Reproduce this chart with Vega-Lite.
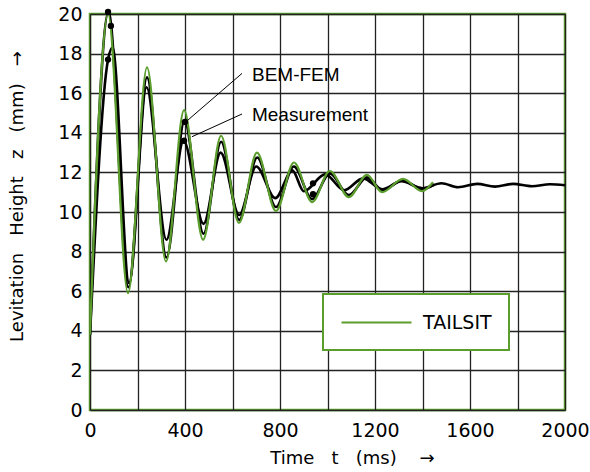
{
  "$schema": "https://vega.github.io/schema/vega-lite/v6.json",
  "width": 475,
  "height": 396,
  "autosize": "none",
  "padding": {"left": 90, "top": 14, "right": 25, "bottom": 62},
  "background": "white",
  "config": {
    "view": {"stroke": "#5b9e2d", "strokeWidth": 2.5},
    "axis": {
      "labelFont": "DejaVu Sans", "titleFont": "DejaVu Sans",
      "labelFontSize": 19, "titleFontSize": 18,
      "labelColor": "#000", "titleColor": "#000", "titleFontWeight": "normal",
      "gridColor": "#222", "gridOpacity": 1, "gridWidth": 1.3,
      "ticks": false, "domain": false
    }
  },
  "datasets": {
    "curves": [
      {"series": "Measurement", "t": 0, "z": 3.8},
      {"series": "Measurement", "t": 76, "z": 17.7},
      {"series": "Measurement", "t": 95, "z": 18.3},
      {"series": "Measurement", "t": 165, "z": 6.4},
      {"series": "Measurement", "t": 238, "z": 16.3},
      {"series": "Measurement", "t": 322, "z": 8.6},
      {"series": "Measurement", "t": 394, "z": 13.6},
      {"series": "Measurement", "t": 478, "z": 9.4},
      {"series": "Measurement", "t": 550, "z": 13.0},
      {"series": "Measurement", "t": 628, "z": 9.85},
      {"series": "Measurement", "t": 700, "z": 12.3},
      {"series": "Measurement", "t": 780, "z": 10.7},
      {"series": "Measurement", "t": 852, "z": 12.1},
      {"series": "Measurement", "t": 900, "z": 11.05},
      {"series": "Measurement", "t": 990, "z": 11.9},
      {"series": "Measurement", "t": 1070, "z": 11.1},
      {"series": "Measurement", "t": 1150, "z": 11.7},
      {"series": "Measurement", "t": 1230, "z": 11.15},
      {"series": "Measurement", "t": 1310, "z": 11.55},
      {"series": "Measurement", "t": 1400, "z": 11.2},
      {"series": "Measurement", "t": 1480, "z": 11.45},
      {"series": "Measurement", "t": 1550, "z": 11.25},
      {"series": "Measurement", "t": 1630, "z": 11.42},
      {"series": "Measurement", "t": 1705, "z": 11.28},
      {"series": "Measurement", "t": 1781, "z": 11.42},
      {"series": "Measurement", "t": 1861, "z": 11.3},
      {"series": "Measurement", "t": 1937, "z": 11.4},
      {"series": "Measurement", "t": 2000, "z": 11.35},
      {"series": "BEM-FEM", "t": 0, "z": 3.8},
      {"series": "BEM-FEM", "t": 78, "z": 20.1},
      {"series": "BEM-FEM", "t": 162, "z": 6.2},
      {"series": "BEM-FEM", "t": 240, "z": 16.8},
      {"series": "BEM-FEM", "t": 322, "z": 7.7},
      {"series": "BEM-FEM", "t": 398, "z": 14.6},
      {"series": "BEM-FEM", "t": 478, "z": 8.9},
      {"series": "BEM-FEM", "t": 552, "z": 13.55},
      {"series": "BEM-FEM", "t": 628, "z": 9.6},
      {"series": "BEM-FEM", "t": 704, "z": 12.75},
      {"series": "BEM-FEM", "t": 783, "z": 10.25},
      {"series": "BEM-FEM", "t": 858, "z": 12.3},
      {"series": "BEM-FEM", "t": 935, "z": 10.65},
      {"series": "BEM-FEM", "t": 1010, "z": 11.95},
      {"series": "BEM-FEM", "t": 1090, "z": 10.85},
      {"series": "BEM-FEM", "t": 1166, "z": 11.75},
      {"series": "BEM-FEM", "t": 1232, "z": 11.1},
      {"series": "BEM-FEM", "t": 1318, "z": 11.6},
      {"series": "BEM-FEM", "t": 1398, "z": 11.15},
      {"series": "BEM-FEM", "t": 1450, "z": 11.4},
      {"series": "TAILSIT", "t": 0, "z": 3.8},
      {"series": "TAILSIT", "t": 76, "z": 20.0},
      {"series": "TAILSIT", "t": 160, "z": 5.9},
      {"series": "TAILSIT", "t": 240, "z": 17.3},
      {"series": "TAILSIT", "t": 320, "z": 7.5},
      {"series": "TAILSIT", "t": 396, "z": 15.15},
      {"series": "TAILSIT", "t": 476, "z": 8.6},
      {"series": "TAILSIT", "t": 552, "z": 13.85},
      {"series": "TAILSIT", "t": 627, "z": 9.45},
      {"series": "TAILSIT", "t": 703, "z": 13.0},
      {"series": "TAILSIT", "t": 783, "z": 10.05},
      {"series": "TAILSIT", "t": 859, "z": 12.5},
      {"series": "TAILSIT", "t": 935, "z": 10.5},
      {"series": "TAILSIT", "t": 1010, "z": 12.07},
      {"series": "TAILSIT", "t": 1090, "z": 10.75},
      {"series": "TAILSIT", "t": 1166, "z": 11.87},
      {"series": "TAILSIT", "t": 1230, "z": 11.0},
      {"series": "TAILSIT", "t": 1318, "z": 11.67},
      {"series": "TAILSIT", "t": 1398, "z": 11.05},
      {"series": "TAILSIT", "t": 1444, "z": 11.5}
    ],
    "markers": [
      {"t": 76, "z": 20.1},
      {"t": 76, "z": 17.7},
      {"t": 88, "z": 19.4},
      {"t": 400, "z": 14.55},
      {"t": 396, "z": 13.6},
      {"t": 939, "z": 11.45},
      {"t": 939, "z": 10.9}
    ],
    "labels": [
      {"label": "BEM-FEM", "t": 682, "z": 16.9, "t0": 640, "z0": 17.0, "t1": 413, "z1": 14.65},
      {"label": "Measurement", "t": 682, "z": 14.9, "t0": 640, "z0": 14.95, "t1": 429, "z1": 13.8}
    ]
  },
  "encoding": {
    "x": {
      "field": "t", "type": "quantitative",
      "scale": {"domain": [0, 2000], "nice": false},
      "axis": {
        "values": [0, 200, 400, 600, 800, 1000, 1200, 1400, 1600, 1800, 2000],
        "format": "d",
        "labelExpr": "datum.value % 400 === 0 ? datum.label : ''",
        "labelPadding": 11, "labelFlush": false,
        "title": "Time\u00a0\u00a0\u00a0t\u00a0\u00a0\u00a0(ms)\u00a0\u00a0\u00a0\u00a0→",
        "titleX": 262, "titleY": 53, "titleAlign": "center", "titleBaseline": "alphabetic", "titleAnchor": null
      }
    },
    "y": {
      "field": "z", "type": "quantitative",
      "scale": {"domain": [0, 20], "nice": false},
      "axis": {
        "values": [0, 2, 4, 6, 8, 10, 12, 14, 16, 18, 20],
        "labelPadding": 8, "labelFlush": false,
        "title": "Levitation\u00a0\u00a0\u00a0Height\u00a0\u00a0\u00a0z\u00a0\u00a0\u00a0(mm)\u00a0\u00a0\u00a0→",
        "titleX": -68, "titleY": 182, "titleAngle": -90, "titleAlign": "center", "titleBaseline": "alphabetic", "titleAnchor": null
      }
    }
  },
  "layer": [
    {
      "data": {"name": "curves"},
      "transform": [{"filter": "datum.series !== 'TAILSIT'"}],
      "mark": {"type": "line", "interpolate": "monotone", "color": "#000", "strokeWidth": 2.6, "clip": true},
      "encoding": {"detail": {"field": "series", "type": "nominal"}}
    },
    {
      "data": {"name": "curves"},
      "transform": [{"filter": "datum.series === 'TAILSIT'"}],
      "mark": {"type": "line", "interpolate": "monotone", "strokeWidth": 2.2, "clip": true},
      "encoding": {
        "color": {
          "field": "series", "type": "nominal",
          "scale": {"domain": ["TAILSIT"], "range": ["#5b9e2d"]},
          "legend": {
            "orient": "none", "legendX": 233, "legendY": 280, "title": null,
            "strokeColor": "#5b9e2d", "fillColor": "white", "padding": 17,
            "symbolType": "M-1,0H6", "symbolSize": 400, "symbolStrokeWidth": 2.2,
            "labelFont": "DejaVu Sans", "labelFontSize": 19, "labelOffset": 60, "labelColor": "#000",
            "encode": {"legend": {"update": {"strokeWidth": {"value": 2}}}}
          }
        }
      }
    },
    {
      "data": {"name": "markers"},
      "mark": {"type": "point", "filled": true, "color": "#000", "size": 40, "opacity": 1}
    },
    {
      "data": {"name": "labels"},
      "mark": {"type": "rule", "color": "#000", "strokeWidth": 1},
      "encoding": {
        "x": {"field": "t0", "type": "quantitative"},
        "y": {"field": "z0", "type": "quantitative"},
        "x2": {"field": "t1"},
        "y2": {"field": "z1"}
      }
    },
    {
      "data": {"name": "labels"},
      "mark": {"type": "text", "font": "Liberation Sans", "fontSize": 19, "align": "left", "baseline": "middle", "color": "#000"},
      "encoding": {"text": {"field": "label", "type": "nominal"}}
    }
  ]
}
